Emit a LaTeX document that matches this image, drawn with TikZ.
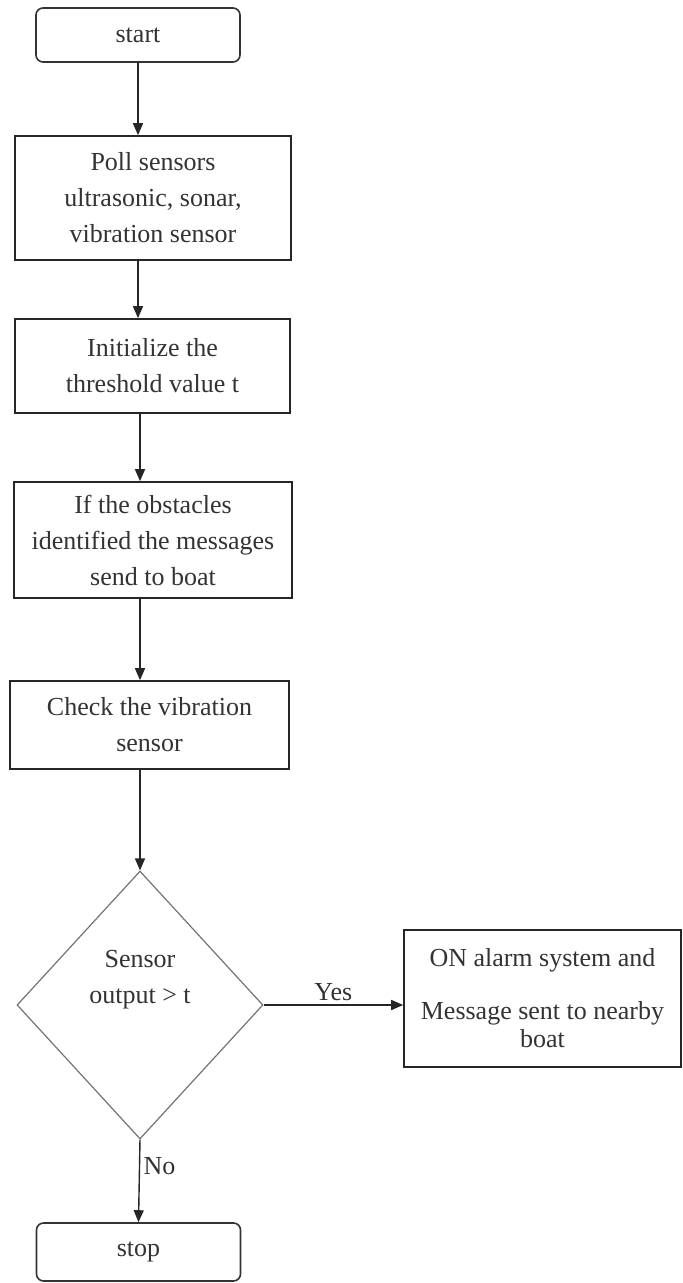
\documentclass[tikz,border=0pt]{standalone}
\usepackage{fontspec}
\setmainfont{Liberation Serif}
\usetikzlibrary{
    arrows.meta,
    positioning,
    shapes.geometric
}

\begin{document}
\begin{tikzpicture}[
    x=1pt,
    y=-1pt,
    every node/.style={
        font=\fontsize{26}{36}\selectfont,
        text=black!80
    },
    term/.style={
        draw=black!80,
        line width=1.6pt,
        rounded corners=7pt,
        align=center,
        minimum width=204pt,
        minimum height=54pt
    },
    process/.style={
        draw=black!85,
        line width=1.6pt,
        align=center,
        inner sep=0pt
    },
    decision/.style={
        diamond,
        draw=black!55,
        line width=1.2pt,
        minimum width=246pt,
        minimum height=268pt,
        inner sep=0pt
    },
    arrow/.style={-{Triangle[length=12pt,width=10pt]},line width=1.4pt,black!85}
]

\useasboundingbox (0,0) rectangle (683,1283);

\node[term] (start) at (138,35) {start};

\node[process, minimum width=276pt, minimum height=124pt] (poll) at (153,198)
{Poll sensors\\ultrasonic, sonar,\\vibration sensor};

\node[process, minimum width=275pt, minimum height=94pt] (init) at (152.5,366)
{Initialize the\\threshold value t};

\node[process, minimum width=278pt, minimum height=116pt] (obst) at (153,540)
{If the obstacles\\identified the messages\\send to boat};

\node[process, minimum width=279pt, minimum height=88pt] (check) at (149.5,725)
{Check the vibration\\sensor};

\node[decision] (dec) at (140,1005) {};
\node[align=center] (dectext) at (140,980) {Sensor\\output > t};

\node[process, minimum width=277pt, minimum height=137pt] (alarm) at (542.5,998.5)
{ON alarm system and\\[17pt]Message sent to nearby\\[-8pt]boat};

\node[term, minimum height=58pt] (stop) at (138.5,1252) {stop};

\draw[arrow] (start.south) -- (start.south |- poll.north);
\draw[arrow] (poll.south -| start.south) -- (init.north -| start.south);
\draw[arrow] (init.south -| dec.north) -- (obst.north -| dec.north);
\draw[arrow] (obst.south -| dec.north) -- (check.north -| dec.north);
\draw[arrow] (check.south -| dec.north) -- (dec.north);

\draw[arrow] (dec.east) -- node[above]{Yes} (alarm.west |- dec.east);
\draw[arrow] (dec.south) -- node[right, pos=0.32]{No} (stop.north);

\end{tikzpicture}
\end{document}
